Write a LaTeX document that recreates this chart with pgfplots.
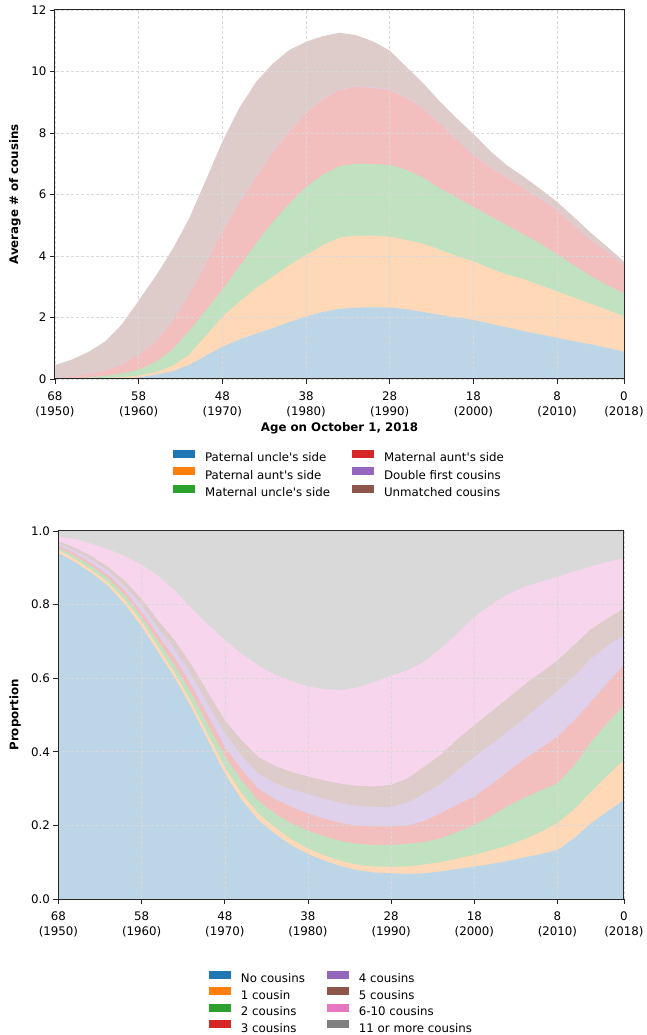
\documentclass[border=0pt]{standalone}
\usepackage{fontspec}
\setmainfont{DejaVu Sans}[Ligatures=TeXOff]
\usepackage{pgfplots}
\usepackage{pgfplotstable}
\pgfplotsset{compat=1.18}
\definecolor{tabblue}{HTML}{1F77B4}
\definecolor{taborange}{HTML}{FF7F0E}
\definecolor{tabgreen}{HTML}{2CA02C}
\definecolor{tabred}{HTML}{D62728}
\definecolor{tabpurple}{HTML}{9467BD}
\definecolor{tabbrown}{HTML}{8C564B}
\definecolor{tabpink}{HTML}{E377C2}
\definecolor{tabgray}{HTML}{7F7F7F}
\newcommand\fs{\fontsize{11.8}{14.3}\selectfont}

% cumulative tops of the stacked areas (average # of cousins)
\pgfplotstableread{
age B O G R P T
68 0.00 0.00 0.01 0.03 0.03 0.45
66 0.00 0.01 0.02 0.08 0.08 0.63
64 0.01 0.02 0.05 0.16 0.16 0.88
62 0.01 0.03 0.10 0.27 0.28 1.22
60 0.02 0.06 0.18 0.47 0.48 1.78
58 0.05 0.11 0.30 0.78 0.79 2.55
56 0.14 0.22 0.55 1.20 1.21 3.33
54 0.25 0.42 0.95 1.85 1.86 4.20
52 0.45 0.78 1.55 2.72 2.73 5.20
50 0.75 1.40 2.22 3.72 3.73 6.45
48 1.05 2.02 2.90 4.80 4.82 7.72
46 1.28 2.50 3.65 5.70 5.72 8.80
44 1.47 2.95 4.40 6.55 6.57 9.65
42 1.65 3.32 5.10 7.35 7.37 10.25
40 1.85 3.70 5.70 8.05 8.07 10.70
38 2.03 4.03 6.25 8.64 8.66 10.97
36 2.18 4.35 6.65 9.10 9.12 11.15
34 2.28 4.60 6.92 9.40 9.42 11.26
32 2.32 4.66 7.00 9.50 9.52 11.18
30 2.33 4.66 6.99 9.47 9.49 10.98
28 2.33 4.63 6.96 9.40 9.42 10.68
26 2.27 4.52 6.80 9.15 9.17 10.15
24 2.18 4.40 6.55 8.80 8.82 9.62
22 2.08 4.20 6.20 8.30 8.32 9.02
20 2.00 4.00 5.90 7.78 7.80 8.48
18 1.92 3.83 5.60 7.28 7.30 7.97
16 1.80 3.60 5.30 6.90 6.92 7.42
14 1.68 3.40 5.00 6.55 6.57 6.95
12 1.56 3.25 4.70 6.20 6.22 6.58
10 1.45 3.05 4.40 5.85 5.87 6.18
8  1.34 2.85 4.05 5.50 5.52 5.76
6  1.23 2.65 3.70 5.00 5.02 5.27
4  1.13 2.45 3.35 4.52 4.54 4.76
2  1.01 2.25 3.05 4.12 4.14 4.30
0  0.89 2.03 2.79 3.71 3.73 3.82
}\topdata

% cumulative tops of the stacked areas (proportion)
\pgfplotstableread{
age B O G R P Br K W
68 .940 .948 .955 .960 .966 .972 .985 1
66 .915 .924 .932 .939 .947 .954 .978 1
64 .885 .894 .904 .912 .922 .931 .965 1
62 .850 .860 .871 .880 .892 .902 .950 1
60 .800 .812 .825 .836 .850 .864 .932 1
58 .740 .754 .766 .780 .798 .815 .908 1
56 .670 .684 .700 .716 .736 .756 .878 1
54 .600 .614 .634 .654 .678 .702 .837 1
52 .520 .534 .558 .580 .608 .636 .790 1
50 .430 .446 .472 .497 .528 .560 .745 1
48 .341 .358 .387 .414 .450 .486 .704 1
46 .270 .288 .322 .352 .390 .432 .667 1
44 .215 .233 .268 .300 .341 .386 .635 1
42 .178 .195 .232 .272 .315 .362 .610 1
40 .146 .162 .205 .250 .298 .345 .592 1
38 .122 .137 .186 .232 .285 .333 .578 1
36 .104 .118 .170 .218 .272 .322 .570 1
34 .089 .103 .157 .206 .260 .313 .568 1
32 .078 .093 .150 .199 .253 .307 .575 1
30 .072 .088 .147 .197 .250 .306 .590 1
28 .070 .088 .147 .197 .250 .310 .607 1
26 .068 .088 .150 .200 .262 .328 .622 1
24 .070 .094 .155 .212 .287 .360 .645 1
22 .075 .100 .165 .233 .312 .392 .681 1
20 .082 .110 .182 .257 .350 .435 .722 1
18 .088 .120 .201 .278 .387 .472 .767 1
16 .095 .132 .225 .310 .420 .508 .800 1
14 .103 .145 .252 .345 .455 .545 .828 1
12 .113 .162 .275 .380 .490 .582 .848 1
10 .122 .182 .295 .410 .528 .615 .862 1
8  .133 .206 .314 .441 .565 .648 .876 1
6  .165 .243 .362 .485 .605 .690 .890 1
4  .205 .290 .425 .535 .652 .733 .904 1
2  .238 .335 .478 .587 .688 .762 .916 1
0  .269 .378 .527 .636 .717 .790 .926 1
}\botdata

\pgfplotsset{
  common/.style={
    scale only axis,
    axis on top,
    x dir=reverse, xmin=0, xmax=68,
    xtick={68,58,48,38,28,18,8,0},
    xticklabels={{68\\(1950)},{58\\(1960)},{48\\(1970)},{38\\(1980)},{28\\(1990)},{18\\(2000)},{8\\(2010)},{0\\(2018)}},
    xticklabel style={align=center, font=\fs, yshift=-4.5pt},
    yticklabel style={font=\fs},
    /pgf/number format/assume math mode=true,
    tick pos=left, tick align=outside, major tick length=5pt,
    major tick style={black!85, line width=0.9pt},
    axis line style={black!85, line width=1pt},
    grid=major,
    major grid style={dash pattern=on 3pt off 2pt, black!15, line width=0.6pt},
    legend cell align=left,
    legend image code/.code={\fill[##1, draw=none] (0pt,0pt) rectangle (22pt,8.3pt);},
    legend style={draw=none, fill=none, font=\fs, legend columns=2,
      row sep=2pt,
      /tikz/every odd column/.append style={column sep=8pt},
      /tikz/every even column/.append style={column sep=20pt}},
    every axis y label/.style={rotate=90, anchor=center, font=\fs\bfseries},
    every axis x label/.style={anchor=center, font=\fs\bfseries},
  },
  ar/.style={draw=none, fill=#1!30!white, forget plot},
}

\begin{document}
\begin{tikzpicture}
\useasboundingbox (0pt,0pt) rectangle (646pt,1035pt);

% ---------- top panel ----------
\begin{axis}[common,
  at={(55pt,656pt)}, anchor=south west, width=569pt, height=369pt,
  ymin=0, ymax=12, ytick={0,2,4,6,8,10,12},
  ylabel={Average \# of cousins},
  xlabel={Age on October 1, 2018},
  every axis y label/.append style={at={(axis description cs:-0.0703,0.5)}},
  every axis x label/.append style={at={(axis description cs:0.5,-0.1345)}},
  legend style={at={(axis description cs:0.5,-0.26)}, anchor=center},
]
\addplot[ar=tabbrown] table[x=age,y=T]{\topdata} \closedcycle;
\addplot[ar=tabpurple] table[x=age,y=P]{\topdata} \closedcycle;
\addplot[ar=tabred] table[x=age,y=R]{\topdata} \closedcycle;
\addplot[ar=tabgreen] table[x=age,y=G]{\topdata} \closedcycle;
\addplot[ar=taborange] table[x=age,y=O]{\topdata} \closedcycle;
\addplot[ar=tabblue] table[x=age,y=B]{\topdata} \closedcycle;
\addlegendimage{fill=tabblue}\addlegendentry{Paternal uncle's side}
\addlegendimage{fill=tabred}\addlegendentry{Maternal aunt's side}
\addlegendimage{fill=taborange}\addlegendentry{Paternal aunt's side}
\addlegendimage{fill=tabpurple}\addlegendentry{Double first cousins}
\addlegendimage{fill=tabgreen}\addlegendentry{Maternal uncle's side}
\addlegendimage{fill=tabbrown}\addlegendentry{Unmatched cousins}
\end{axis}

% ---------- bottom panel ----------
\begin{axis}[common,
  at={(58.5pt,136pt)}, anchor=south west, width=565.5pt, height=368pt,
  ymin=0, ymax=1, ytick={0,0.2,0.4,0.6,0.8,1.0},
  yticklabel style={/pgf/number format/.cd, fixed, fixed zerofill, precision=1},
  ylabel={Proportion},
  every axis y label/.append style={at={(axis description cs:-0.0769,0.5)}},
  legend style={at={(axis description cs:0.5005,-0.283)}, anchor=center, row sep=1pt},
]
\addplot[ar=tabgray] table[x=age,y=W]{\botdata} \closedcycle;
\addplot[ar=tabpink] table[x=age,y=K]{\botdata} \closedcycle;
\addplot[ar=tabbrown] table[x=age,y=Br]{\botdata} \closedcycle;
\addplot[ar=tabpurple] table[x=age,y=P]{\botdata} \closedcycle;
\addplot[ar=tabred] table[x=age,y=R]{\botdata} \closedcycle;
\addplot[ar=tabgreen] table[x=age,y=G]{\botdata} \closedcycle;
\addplot[ar=taborange] table[x=age,y=O]{\botdata} \closedcycle;
\addplot[ar=tabblue] table[x=age,y=B]{\botdata} \closedcycle;
\addlegendimage{fill=tabblue}\addlegendentry{No cousins}
\addlegendimage{fill=tabpurple}\addlegendentry{4 cousins}
\addlegendimage{fill=taborange}\addlegendentry{1 cousin}
\addlegendimage{fill=tabbrown}\addlegendentry{5 cousins}
\addlegendimage{fill=tabgreen}\addlegendentry{2 cousins}
\addlegendimage{fill=tabpink}\addlegendentry{6-10 cousins}
\addlegendimage{fill=tabred}\addlegendentry{3 cousins}
\addlegendimage{fill=tabgray}\addlegendentry{11 or more cousins}
\end{axis}
\end{tikzpicture}
\end{document}
